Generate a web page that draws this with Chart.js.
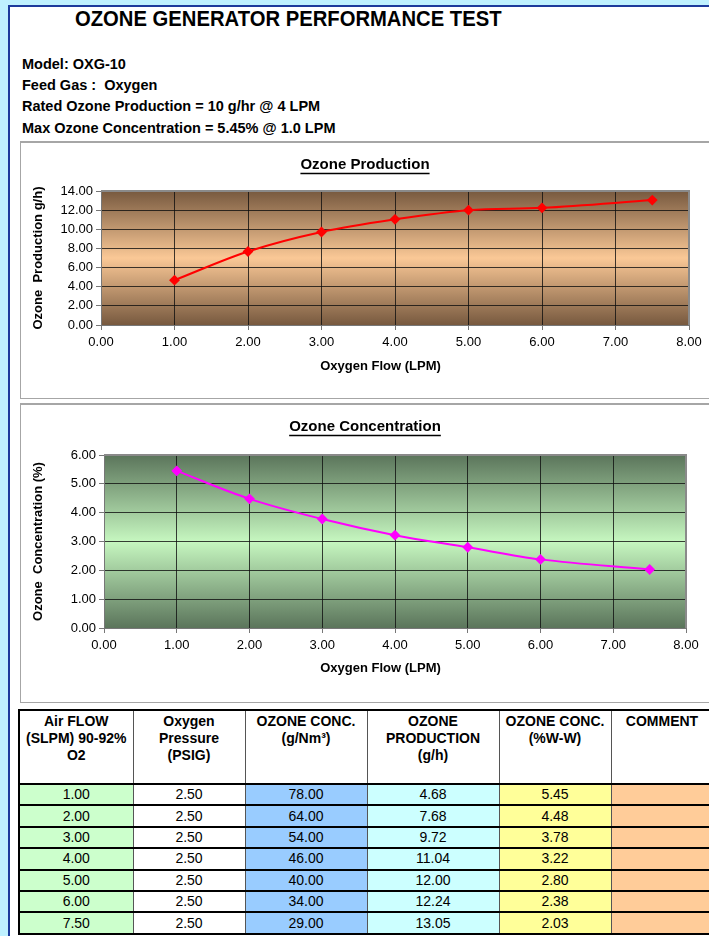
<!DOCTYPE html>
<html>
<head>
<meta charset="utf-8">
<script src="https://cdn.jsdelivr.net/npm/chart.js@4.4.1/dist/chart.umd.min.js"></script>
<style>
  html, body { margin: 0; padding: 0; }
  body {
    width: 709px; height: 936px; overflow: hidden; position: relative;
    background: #bff1ff; font-family: "Liberation Sans", Arial, sans-serif; color: #000;
  }
  #sheet {
    position: absolute; left: 8px; top: 5px; width: 720px; height: 960px;
    background: #fff; border-left: 2px solid #1d3b9c; border-top: 2px solid #1d3b9c;
  }
  .txt { position: absolute; white-space: nowrap; }
  #title {
    left: 75px; top: 6px; font-size: 22px; line-height: 26px; font-weight: bold;
    transform: scaleX(0.92); transform-origin: left center;
  }
  .info { left: 22px; font-size: 14.5px; font-weight: bold; line-height: 17px; }
  .box {
    position: absolute; left: 20px; width: 700px; background: #fff;
    border: 1px solid #a6a6a6; border-top-width: 2px; border-right: none;
  }
  .box .wrap { position: relative; width: 688px; }
  #box1 { top: 141px; height: 255px; }
  #box1 .wrap { height: 255px; }
  #box2 { top: 403px; height: 297px; }
  #box2 .wrap { height: 297px; }
  #tbl {
    position: absolute; left: 18px; top: 709px; width: 694px; border-collapse: collapse;
    table-layout: fixed; font-size: 14px;
  }
  #tbl th, #tbl td {
    border-left: 1px solid #555; border-right: 1px solid #555;
    border-bottom: 2px solid #000; text-align: center; padding: 0;
  }
  #tbl th {
    height: 70px; vertical-align: top; font-weight: bold; line-height: 17px;
    padding-top: 2px; border-top: 2px solid #000; border-bottom: 2px solid #000;
  }
  #tbl td { height: 19.4px; line-height: 19px; }
  #tbl tr th:first-child, #tbl tr td:first-child { border-left: 2px solid #000; }
</style>
</head>
<body>
<div id="sheet"></div>
<div class="txt" id="title">OZONE GENERATOR PERFORMANCE TEST</div>
<div class="txt info" style="top:56px">Model: OXG-10</div>
<div class="txt info" style="top:77px">Feed Gas :&nbsp; Oxygen</div>
<div class="txt info" style="top:98px">Rated Ozone Production = 10 g/hr @ 4 LPM</div>
<div class="txt info" style="top:120px">Max Ozone Concentration = 5.45% @ 1.0 LPM</div>

<div class="box" id="box1"><div class="wrap"><canvas id="chartProd"></canvas></div></div>
<div class="box" id="box2"><div class="wrap"><canvas id="chartConc"></canvas></div></div>

<table id="tbl">
  <colgroup>
    <col style="width:114px"><col style="width:112px"><col style="width:122px">
    <col style="width:132px"><col style="width:112px"><col style="width:102px">
  </colgroup>
  <thead>
    <tr>
      <th>Air FLOW<br>(SLPM) 90-92%<br>O2</th>
      <th>Oxygen<br>Pressure<br>(PSIG)</th>
      <th>OZONE CONC.<br>(g/Nm³)</th>
      <th>OZONE<br>PRODUCTION<br>(g/h)</th>
      <th>OZONE CONC.<br>(%W-W)</th>
      <th>COMMENT</th>
    </tr>
  </thead>
  <tbody id="rows"></tbody>
</table>

<script>
// test data (from the sheet)
const flowLpm = [1.0, 2.0, 3.0, 4.0, 5.0, 6.0, 7.5];
const pressurePsig = [2.5, 2.5, 2.5, 2.5, 2.5, 2.5, 2.5];
const concGNm3 = [78, 64, 54, 46, 40, 34, 29];
const productionGh = [4.68, 7.68, 9.72, 11.04, 12.0, 12.24, 13.05];
const concPct = [5.45, 4.48, 3.78, 3.22, 2.8, 2.38, 2.03];
const flowTicks = [0, 1, 2, 3, 4, 5, 6, 7, 8];
const prodTicks = [0, 2, 4, 6, 8, 10, 12, 14];
const concTicks = [0, 1, 2, 3, 4, 5, 6];

document.addEventListener("DOMContentLoaded", () => {
  // table
  const rows = document.getElementById("rows");
  const colors = ["#ccffcc", "#ffffff", "#99ccff", "#ccffff", "#ffff99", "#ffcc99"];
  flowLpm.forEach((f, i) => {
    const vals = [f, pressurePsig[i], concGNm3[i], productionGh[i], concPct[i]];
    const tr = document.createElement("tr");
    vals.forEach((v, c) => {
      const td = document.createElement("td");
      td.textContent = v.toFixed(2);
      td.style.background = colors[c];
      tr.appendChild(td);
    });
    const td = document.createElement("td");
    td.style.background = colors[5];
    tr.appendChild(td);
    rows.appendChild(tr);
  });

  const font = "'Liberation Sans', Arial, sans-serif";

  const plotBg = {
    id: "plotBg",
    beforeDraw(chart, args, opts) {
      const { ctx, chartArea: a } = chart;
      const g = ctx.createLinearGradient(0, a.top, 0, a.bottom);
      g.addColorStop(0, opts.dark);
      g.addColorStop(0.5, opts.light);
      g.addColorStop(1, opts.dark);
      ctx.save();
      ctx.fillStyle = g;
      ctx.fillRect(a.left, a.top, a.right - a.left, a.bottom - a.top);
      ctx.restore();
    },
    beforeDatasetsDraw(chart) {
      const { ctx, chartArea: a } = chart;
      ctx.save();
      ctx.strokeStyle = "#8a8a8a";
      ctx.lineWidth = 2;
      ctx.beginPath();
      ctx.moveTo(a.left, a.top);
      ctx.lineTo(a.right, a.top);
      ctx.lineTo(a.right, a.bottom);
      ctx.stroke();
      ctx.restore();
    },
  };

  const underlineTitle = {
    id: "underlineTitle",
    afterDraw(chart) {
      const t = chart.options.plugins.title;
      const b = chart.titleBlock;
      if (!b) return;
      const { ctx } = chart;
      ctx.save();
      ctx.font = "bold 15px " + font;
      const w = ctx.measureText(t.text).width;
      const cx = (b.left + b.right) / 2;
      const y = b.top + t.padding.top + 9 + 8;
      ctx.strokeStyle = "#000";
      ctx.lineWidth = 1.5;
      ctx.beginPath();
      ctx.moveTo(cx - w / 2, y + 0.5);
      ctx.lineTo(cx + w / 2, y + 0.5);
      ctx.stroke();
      ctx.restore();
    },
  };

  function makeChart(id, cfg) {
    const pts = flowLpm.map((x, i) => ({ x, y: cfg.values[i] }));
    return new Chart(document.getElementById(id), {
      type: "line",
      data: {
        datasets: [
          {
            data: pts,
            borderColor: cfg.color,
            backgroundColor: cfg.color,
            borderWidth: 2,
            tension: 0.35,
            pointStyle: "rectRot",
            pointRadius: 4,
            pointHoverRadius: 4,
            clip: false,
          },
        ],
      },
      options: {
        responsive: true,
        maintainAspectRatio: false,
        animation: false,
        devicePixelRatio: 1,
        layout: { padding: 0 },
        plugins: {
          legend: { display: false },
          tooltip: { enabled: false },
          title: {
            display: true,
            text: cfg.title,
            color: "#000",
            font: { family: font, size: 15, weight: "bold" },
            padding: { top: 13, bottom: cfg.titlePadBottom },
          },
          plotBg: { dark: cfg.dark, light: cfg.light },
        },
        scales: {
          x: {
            type: "linear",
            min: 0,
            max: 8,
            afterBuildTicks: (s) => { s.ticks = flowTicks.map((v) => ({ value: v })); },
            afterFit: (s) => { s.height = cfg.xHeight; },
            ticks: {
              color: "#000",
              font: { family: font, size: 13 },
              padding: 5,
              maxRotation: 0,
              callback: (v) => Number(v).toFixed(2),
            },
            grid: { color: "rgba(15,15,15,0.8)", lineWidth: 1, tickLength: 5, tickColor: "#777" },
            border: { color: "#777", width: 1 },
            title: {
              display: true,
              // trailing spaces pull the centred title a bit left, like the sheet
              text: "Oxygen Flow (LPM)\u00a0\u00a0\u00a0\u00a0\u00a0\u00a0\u00a0\u00a0",
              color: "#000",
              font: { family: font, size: 13, weight: "bold" },
              padding: { top: 0, bottom: cfg.xTitlePad },
            },
          },
          y: {
            type: "linear",
            min: 0,
            max: cfg.yTicks[cfg.yTicks.length - 1],
            afterBuildTicks: (s) => { s.ticks = cfg.yTicks.map((v) => ({ value: v })); },
            afterFit: (s) => { s.width = cfg.yWidth; },
            ticks: {
              color: "#000",
              font: { family: font, size: 13 },
              padding: 3,
              callback: (v) => Number(v).toFixed(2),
            },
            grid: { color: "rgba(15,15,15,0.8)", lineWidth: 1, tickLength: 5, tickColor: "#777" },
            border: { color: "#777", width: 1 },
            title: {
              display: true,
              text: cfg.yTitle,
              color: "#000",
              font: { family: font, size: 13, weight: "bold" },
              padding: { top: 9.2, bottom: 0 },
            },
          },
          // empty right-hand strip so the chart title stays centred on the box
          gap: {
            type: "linear",
            position: "right",
            afterFit: (s) => { s.width = cfg.padRight; },
            ticks: { display: false },
            grid: { display: false },
            border: { display: false },
          },
        },
      },
      plugins: [plotBg, underlineTitle],
    });
  }

  makeChart("chartProd", {
    values: productionGh,
    color: "#ff0000",
    title: "Ozone Production",
    yTitle: "Ozone  Production g/h)",
    yTicks: prodTicks,
    dark: "#77593f",
    light: "#fac896",
    padRight: 20,
    titlePadBottom: 17,
    xHeight: 73,
    xTitlePad: 24.2,
    yWidth: 80,
  });

  makeChart("chartConc", {
    values: concPct,
    color: "#ff00ff",
    title: "Ozone Concentration",
    yTitle: "Ozone  Concentration (%)",
    yTicks: concTicks,
    dark: "#5b755b",
    light: "#c6f7c0",
    padRight: 23,
    titlePadBottom: 19,
    xHeight: 74,
    xTitlePad: 26.2,
    yWidth: 83,
  });
});
</script>
</body>
</html>
